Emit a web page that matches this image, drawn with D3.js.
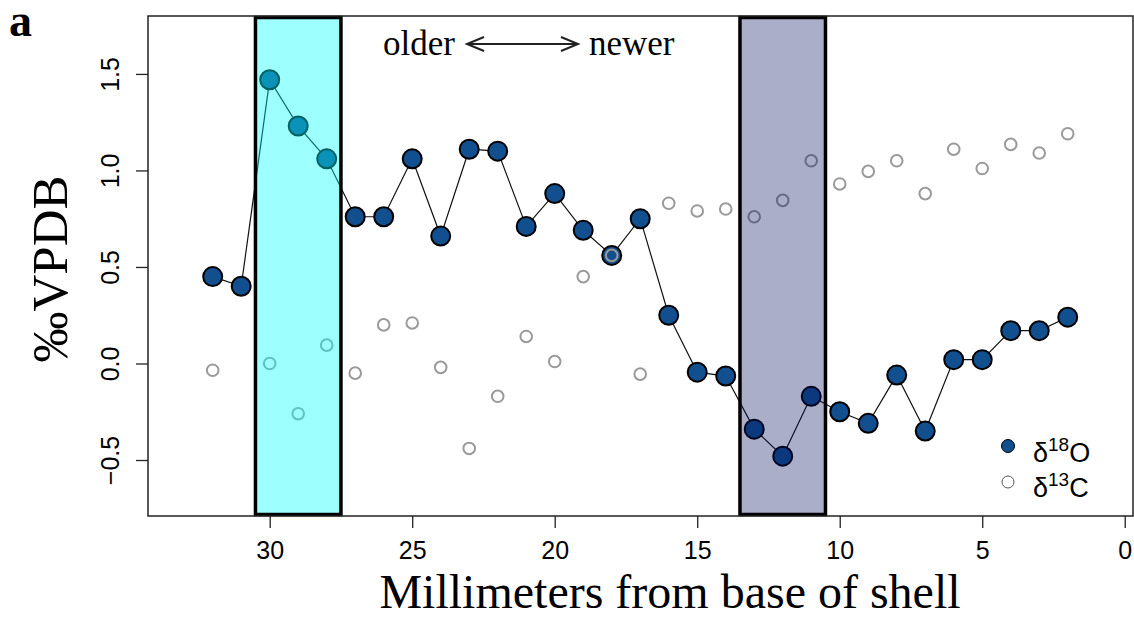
<!DOCTYPE html>
<html>
<head>
<meta charset="utf-8">
<script src="https://cdn.jsdelivr.net/npm/d3@7"></script>
<style>
  body { margin: 0; background: #fff; }
  svg { display: block; }
</style>
</head>
<body>
<div id="chart"></div>
<script>
// millimeters from base of shell, one sample per mm
const mm = [32, 31, 30, 29, 28, 27, 26, 25, 24, 23, 22, 21, 20, 19, 18, 17,
  16, 15, 14, 13, 12, 11, 10, 9, 8, 7, 6, 5, 4, 3, 2];

// delta 18O values (per mil VPDB)
const d18O = [0.45, 0.40, 1.47, 1.23, 1.06, 0.76, 0.76, 1.06, 0.66, 1.11, 1.10,
  0.71, 0.88, 0.69, 0.56, 0.75, 0.25, -0.045, -0.065, -0.34, -0.48, -0.17,
  -0.25, -0.31, -0.06, -0.35, 0.02, 0.02, 0.17, 0.17, 0.24];

// delta 13C values, null where no sample
const d13C = [-0.035, null, 0.0, -0.26, 0.095, -0.05, 0.20, 0.21, -0.02, -0.44,
  -0.17, 0.14, 0.01, 0.45, 0.56, -0.055, 0.83, 0.79, 0.80, 0.76, 0.845, 1.05,
  0.93, 0.995, 1.05, 0.88, 1.11, 1.01, 1.135, 1.09, 1.19];

// highlighted intervals (mm)
const bands = [
  { from: 30.5, to: 27.5, fill: '#00ffff', opacity: 0.38 },
  { from: 13.5, to: 10.5, fill: '#000a5a', opacity: 0.33 }
];

const xTicks = [30, 25, 20, 15, 10, 5, 0];
const yTicks = [-0.5, 0.0, 0.5, 1.0, 1.5];

const W = 1134, H = 618;
const box = { left: 148, right: 1133, top: 16, bottom: 516 };

const svg = d3.select('#chart').append('svg')
  .attr('width', W)
  .attr('height', H);

const x = d3.scaleLinear().domain([34.27, -0.29]).range([box.left, box.right]);
const y = d3.scaleLinear().domain([-0.79, 1.80]).range([box.bottom, box.top]);

const serif = '"Liberation Serif", "Times New Roman", serif';
const sans = '"Liberation Sans", Arial, sans-serif';

const oData = mm.map((m, i) => ({ m, v: d18O[i] }));
const cData = mm.map((m, i) => ({ m, v: d13C[i] })).filter(d => d.v !== null);

// connecting line for d18O
svg.append('path')
  .datum(oData)
  .attr('fill', 'none')
  .attr('stroke', '#111')
  .attr('stroke-width', 1.2)
  .attr('d', d3.line().x(d => x(d.m)).y(d => y(d.v)));

// d18O points
svg.append('g').selectAll('circle')
  .data(oData)
  .enter()
  .append('circle')
  .attr('cx', d => x(d.m))
  .attr('cy', d => y(d.v))
  .attr('r', 9.5)
  .attr('fill', '#124f8f')
  .attr('stroke', '#000')
  .attr('stroke-width', 2);

// d13C points
svg.append('g').selectAll('circle')
  .data(cData)
  .enter()
  .append('circle')
  .attr('cx', d => x(d.m))
  .attr('cy', d => y(d.v))
  .attr('r', 5.8)
  .attr('fill', 'none')
  .attr('stroke', '#9a9a9a')
  .attr('stroke-width', 2);

// translucent bands drawn over the points
const bandG = svg.append('g');
bandG.selectAll('rect.fill')
  .data(bands)
  .enter()
  .append('rect')
  .attr('class', 'fill')
  .attr('x', d => x(d.from))
  .attr('width', d => x(d.to) - x(d.from))
  .attr('y', box.top + 1.5)
  .attr('height', box.bottom - box.top - 3)
  .attr('fill', d => d.fill)
  .attr('fill-opacity', d => d.opacity)
  .attr('stroke', '#000')
  .attr('stroke-width', 3.5);

// plot frame
svg.append('rect')
  .attr('x', box.left)
  .attr('y', box.top)
  .attr('width', box.right - box.left)
  .attr('height', box.bottom - box.top)
  .attr('fill', 'none')
  .attr('stroke', '#222')
  .attr('stroke-width', 1.5);

// x axis
const xAxis = svg.append('g')
  .attr('transform', `translate(0, ${box.bottom})`)
  .call(d3.axisBottom(x).tickValues(xTicks).tickSize(12).tickPadding(13).tickFormat(d3.format('d')));
xAxis.select('.domain').remove();
xAxis.selectAll('line').attr('stroke', '#222').attr('stroke-width', 1.3);
xAxis.selectAll('text')
  .attr('font-family', sans)
  .attr('font-size', 25)
  .attr('fill', '#000');

// y axis, labels parallel to axis
const yAxis = svg.append('g')
  .attr('transform', `translate(${box.left}, 0)`)
  .call(d3.axisLeft(y).tickValues(yTicks).tickSize(12).tickFormat(d3.format('.1f')));
yAxis.select('.domain').remove();
yAxis.selectAll('line').attr('stroke', '#222').attr('stroke-width', 1.3);
yAxis.selectAll('text')
  .attr('x', null)
  .attr('dy', null)
  .attr('text-anchor', 'middle')
  .attr('transform', 'translate(-29, 0) rotate(-90)')
  .attr('font-family', sans)
  .attr('font-size', 25)
  .attr('fill', '#000');

// axis titles
svg.append('text')
  .attr('x', 670)
  .attr('y', 608)
  .attr('text-anchor', 'middle')
  .attr('font-family', serif)
  .attr('font-size', 48)
  .text('Millimeters from base of shell');

svg.append('text')
  .attr('transform', 'translate(67, 269) rotate(-90)')
  .attr('text-anchor', 'middle')
  .attr('font-family', serif)
  .attr('font-size', 51)
  .text('\u2030VPDB');

// panel letter
svg.append('text')
  .attr('x', 9)
  .attr('y', 36)
  .attr('font-family', serif)
  .attr('font-weight', 'bold')
  .attr('font-size', 46)
  .text('a');

// older <-> newer annotation
svg.append('text')
  .attr('x', 383)
  .attr('y', 55)
  .attr('font-family', serif)
  .attr('font-size', 35)
  .text('older');
svg.append('text')
  .attr('x', 589)
  .attr('y', 55)
  .attr('font-family', serif)
  .attr('font-size', 35)
  .text('newer');
const ay = 44, ax1 = 467, ax2 = 578;
svg.append('path')
  .attr('d', `M${ax1},${ay}H${ax2}M${ax1 + 17},${ay - 7}L${ax1},${ay}L${ax1 + 17},${ay + 7}` +
    `M${ax2 - 17},${ay - 7}L${ax2},${ay}L${ax2 - 17},${ay + 7}`)
  .attr('fill', 'none')
  .attr('stroke', '#222')
  .attr('stroke-width', 2);

// legend
const legend = svg.append('g').attr('font-family', sans).attr('font-size', 27);
legend.append('circle')
  .attr('cx', 1008).attr('cy', 446).attr('r', 6.5)
  .attr('fill', '#124f8f').attr('stroke', '#000').attr('stroke-width', 1);
legend.append('circle')
  .attr('cx', 1008).attr('cy', 482).attr('r', 6)
  .attr('fill', 'none').attr('stroke', '#555').attr('stroke-width', 1);

const l1 = legend.append('text').attr('x', 1033).attr('y', 462);
l1.append('tspan').text('\u03b4');
l1.append('tspan').attr('font-size', 19).attr('dy', -11).text('18');
l1.append('tspan').attr('dy', 11).text('O');

const l2 = legend.append('text').attr('x', 1033).attr('y', 497);
l2.append('tspan').text('\u03b4');
l2.append('tspan').attr('font-size', 19).attr('dy', -11).text('13');
l2.append('tspan').attr('dy', 11).text('C');
</script>
</body>
</html>
